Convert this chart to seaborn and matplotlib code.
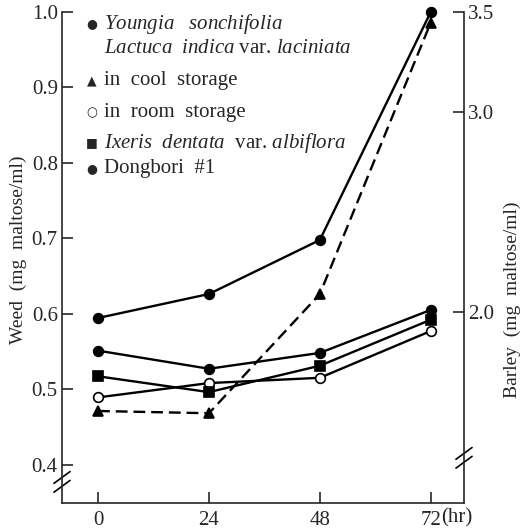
import matplotlib
matplotlib.use("Agg")
import matplotlib.pyplot as plt
import seaborn as sns

# time points (hr)
hours = [0, 24, 48, 72]

# weed amylase activity (mg maltose/ml), left axis
youngia = [0.551, 0.527, 0.548, 0.605]
lactuca_cool = [0.471, 0.468, 0.626, 0.986]
lactuca_room = [0.489, 0.508, 0.515, 0.577]
ixeris = [0.517, 0.496, 0.531, 0.592]

# barley (mg maltose/ml), right axis
dongbori = [1.97, 2.09, 2.36, 3.50]

weed_ticks = [0.4, 0.5, 0.6, 0.7, 0.8, 0.9, 1.0]
barley_ticks = [2.0, 3.0, 3.5]

sns.set_style("ticks")
plt.rcParams["font.family"] = ["Liberation Serif", "DejaVu Serif"]
plt.rcParams["mathtext.fontset"] = "custom"
plt.rcParams["mathtext.rm"] = "Liberation Serif"
plt.rcParams["mathtext.it"] = "Liberation Serif:italic"

fig = plt.figure(figsize=(5.28, 5.30), dpi=100)
ax = fig.add_axes([62 / 528, 1 - 503 / 530, 402 / 528, 491 / 530])
ax2 = ax.twinx()

line_kw = dict(color="black", linewidth=1.7, markersize=7, markeredgecolor="black",
               markeredgewidth=1.2, clip_on=False)

sns.lineplot(x=hours, y=youngia, ax=ax, marker="o", **line_kw)
sns.lineplot(x=hours, y=lactuca_cool, ax=ax, marker="^", linestyle=(0, (5, 2.5)), **line_kw)
sns.lineplot(x=hours, y=lactuca_room, ax=ax, marker="o", markerfacecolor="white", **line_kw)
sns.lineplot(x=hours, y=ixeris, ax=ax, marker="s", **line_kw)
sns.lineplot(x=hours, y=dongbori, ax=ax2, marker="o", **line_kw)

ax.set_xlim(-7.8, 79.2)
ax.set_ylim(0.349, 1.0)
ax2.set_ylim(1.045, 3.5)

ax.set_xticks(hours)
ax.set_xticklabels([str(h) for h in hours])
ax.set_yticks(weed_ticks)
ax.set_yticklabels([f"{t:.1f}" for t in weed_ticks])
ax2.set_yticks(barley_ticks)
ax2.set_yticklabels([f"{t:.1f}" for t in barley_ticks])

for a in (ax, ax2):
    a.spines["top"].set_visible(False)
    for s in a.spines.values():
        s.set_linewidth(1.2)
ax.spines["right"].set_visible(False)
ax2.spines["left"].set_visible(False)
ax2.spines["bottom"].set_visible(False)

ax.tick_params(axis="both", direction="in", length=8, width=1.2, labelsize=15, pad=3)
ax.tick_params(axis="x", pad=6)
ax2.tick_params(axis="y", direction="in", length=8, width=1.2, labelsize=15, pad=3)

ax.set_ylabel("Weed  (mg  maltose/ml)", fontsize=14)
ax.yaxis.set_label_coords(-0.088, (503 - 250) / 491)
ax2.set_ylabel("Barley  (mg  maltose/ml)", fontsize=14)
ax2.yaxis.set_label_coords(1.099, (503 - 300) / 491)

# unit after the last x tick label
ax.text((441 - 62) / 402, -0.0305, "(hr)", transform=ax.transAxes, fontsize=15,
        ha="left", va="center")

# axis breaks
for a, yb in ((ax, 0.043), (ax2, 0.092)):
    xs = 0.0 if a is ax else 1.0
    a.plot([xs, xs], [yb - 0.008, yb + 0.008], transform=a.transAxes,
           color="white", linewidth=3, clip_on=False)
    for dy in (-0.009, 0.009):
        a.plot([xs - 0.02, xs + 0.02], [yb + dy - 0.012, yb + dy + 0.012],
               transform=a.transAxes, color="black", linewidth=1.2, clip_on=False)

# legend written in the plot
fs = 15
mx, tx = 0.075, 0.104
rows = [
    (0.976, "\u25cf", r"$\mathit{Youngia\ \ \ sonchifolia}$"),
    (0.925, "", r"$\mathit{Lactuca\ \ indica}$ var. $\mathit{laciniata}$"),
    (0.860, "\u25b2", "in  cool  storage"),
    (0.795, "\u25cb", "in  room  storage"),
    (0.734, "\u25a0", r"$\mathit{Ixeris\ \ dentata}$  var. $\mathit{albiflora}$"),
    (0.681, "\u25cf", "Dongbori  #1"),
]
for y, sym, label in rows:
    if sym:
        ax.text(mx, y, sym, transform=ax.transAxes, fontsize=9, ha="center", va="center",
                family=["DejaVu Sans"])
    ax.text(tx, y, label, transform=ax.transAxes, fontsize=fs, ha="left", va="center")

fig.savefig("out.png", dpi=100)
